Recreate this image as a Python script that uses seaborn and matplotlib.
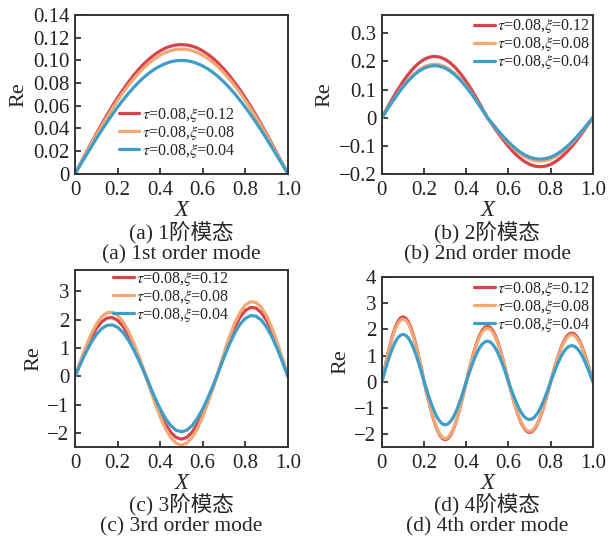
import numpy as np
import pandas as pd
import matplotlib
matplotlib.use("Agg")
import matplotlib.pyplot as plt
import seaborn as sns

# ---------------- data ----------------
x = [i * 0.025 for i in range(41)]
x4 = [i * 0.0125 for i in range(81)]

labels = [r"$\tau$=0.08,$\xi$=0.12", r"$\tau$=0.08,$\xi$=0.08", r"$\tau$=0.08,$\xi$=0.04"]
colors = ["#d6434d", "#f3a873", "#3d9fc8"]

m1_red = [0, .0090, .0178, .0266, .0352, .0436, .0518, .0596, .0670, .0740, .0806, .0867, .0922, .0972,
          .1016, .1053, .1084, .1109, .1126, .1136, .1140, .1136, .1126, .1109, .1084, .1053, .1016, .0972,
          .0922, .0867, .0806, .0740, .0670, .0596, .0518, .0436, .0352, .0266, .0178, .0090, 0]
m1_orange = [0, .0086, .0172, .0257, .0340, .0421, .0499, .0575, .0647, .0714, .0778, .0836, .0890, .0938,
             .0980, .1016, .1046, .1070, .1086, .1097, .1100, .1097, .1086, .1070, .1046, .1016, .0980, .0938,
             .0890, .0836, .0778, .0714, .0647, .0575, .0499, .0421, .0340, .0257, .0172, .0086, 0]
m1_blue = [0, .0079, .0156, .0233, .0309, .0383, .0454, .0523, .0588, .0649, .0707, .0760, .0809, .0853,
           .0891, .0924, .0951, .0972, .0988, .0997, .1000, .0997, .0988, .0972, .0951, .0924, .0891, .0853,
           .0809, .0760, .0707, .0649, .0588, .0523, .0454, .0383, .0309, .0233, .0156, .0079, 0]

m2_red = [0, .0341, .0674, .0990, .1281, .1541, .1764, .1942, .2073, .2153, .2180, .2153, .2073, .1942,
          .1764, .1541, .1281, .0990, .0674, .0341, 0,
          -.0274, -.0541, -.0795, -.1029, -.1237, -.1416, -.1559, -.1664, -.1728, -.1750, -.1728, -.1664,
          -.1559, -.1416, -.1237, -.1029, -.0795, -.0541, -.0274, 0]
m2_orange = [0, .0297, .0587, .0863, .1117, .1343, .1537, .1693, .1807, .1877, .1900, .1877, .1807, .1693,
             .1537, .1343, .1117, .0863, .0587, .0297, 0,
             -.0242, -.0479, -.0704, -.0911, -.1096, -.1254, -.1381, -.1474, -.1531, -.1550, -.1531, -.1474,
             -.1381, -.1254, -.1096, -.0911, -.0704, -.0479, -.0242, 0]
m2_blue = [0, .0289, .0572, .0840, .1087, .1308, .1497, .1648, .1759, .1827, .1850, .1827, .1759, .1648,
           .1497, .1308, .1087, .0840, .0572, .0289, 0,
           -.0231, -.0457, -.0672, -.0870, -.1047, -.1197, -.1319, -.1408, -.1462, -.1480, -.1462, -.1408,
           -.1319, -.1197, -.1047, -.0870, -.0672, -.0457, -.0231, 0]

m3_red = [0, .485, .944, 1.351, 1.683, 1.922, 2.054, 2.074, 1.978, 1.773, 1.471, 1.087, .643, .163,
          -.347, -.850, -1.305, -1.688, -1.978, -2.159, -2.220, -2.159, -1.978, -1.688, -1.305, -.850, -.347,
          .192, .754, 1.275, 1.725, 2.080, 2.321, 2.432, 2.410, 2.254, 1.974, 1.585, 1.108, .570, 0]
m3_orange = [0, .530, 1.031, 1.474, 1.836, 2.097, 2.242, 2.263, 2.159, 1.935, 1.605, 1.186, .701, .178,
             -.380, -.930, -1.428, -1.848, -2.165, -2.363, -2.430, -2.363, -2.165, -1.848, -1.428, -.930, -.380,
             .207, .816, 1.379, 1.867, 2.251, 2.511, 2.632, 2.608, 2.439, 2.136, 1.714, 1.199, .616, 0]
m3_blue = [0, .425, .826, 1.182, 1.472, 1.681, 1.798, 1.814, 1.731, 1.552, 1.287, .951, .562, .143,
           -.307, -.750, -1.152, -1.490, -1.746, -1.906, -1.960, -1.906, -1.746, -1.490, -1.152, -.750, -.307,
           .169, .664, 1.123, 1.520, 1.833, 2.045, 2.143, 2.124, 1.986, 1.739, 1.396, .976, .502, 0]

m4_red = [0, .484, .949, 1.378, 1.754, 2.062, 2.291, 2.432, 2.480, 2.432, 2.291, 2.062, 1.754, 1.378, .949, .484,
          0, -.433, -.850, -1.233, -1.570, -1.846, -2.051, -2.177, -2.220, -2.177, -2.051, -1.846, -1.570, -1.233, -.850, -.433,
          0, .414, .811, 1.178, 1.499, 1.763, 1.959, 2.079, 2.120, 2.079, 1.959, 1.763, 1.499, 1.178, .811, .414,
          0, -.378, -.742, -1.078, -1.372, -1.613, -1.792, -1.903, -1.940, -1.903, -1.792, -1.613, -1.372, -1.078, -.742, -.378,
          0, .363, .712, 1.033, 1.315, 1.547, 1.718, 1.824, 1.860, 1.824, 1.718, 1.547, 1.315, 1.033, .712, .363, 0]
m4_orange = [0, .468, .918, 1.333, 1.697, 1.996, 2.217, 2.354, 2.400, 2.354, 2.217, 1.996, 1.697, 1.333, .918, .468,
             0, -.425, -.834, -1.211, -1.541, -1.813, -2.014, -2.138, -2.180, -2.138, -2.014, -1.813, -1.541, -1.211, -.834, -.425,
             0, .400, .785, 1.139, 1.450, 1.705, 1.894, 2.011, 2.050, 2.011, 1.894, 1.705, 1.450, 1.139, .785, .400,
             0, -.371, -.727, -1.056, -1.343, -1.580, -1.755, -1.864, -1.900, -1.864, -1.755, -1.580, -1.343, -1.056, -.727, -.371,
             0, .351, .689, 1.000, 1.273, 1.497, 1.663, 1.765, 1.800, 1.765, 1.663, 1.497, 1.273, 1.000, .689, .351, 0]
m4_blue = [0, .353, .693, 1.006, 1.280, 1.505, 1.672, 1.775, 1.810, 1.775, 1.672, 1.505, 1.280, 1.006, .693, .353,
           0, -.322, -.631, -.917, -1.167, -1.372, -1.524, -1.618, -1.650, -1.618, -1.524, -1.372, -1.167, -.917, -.631, -.322,
           0, .302, .593, .861, 1.096, 1.289, 1.432, 1.520, 1.550, 1.520, 1.432, 1.289, 1.096, .861, .593, .302,
           0, -.283, -.555, -.806, -1.025, -1.206, -1.340, -1.422, -1.450, -1.422, -1.340, -1.206, -1.025, -.806, -.555, -.283,
           0, .269, .528, .767, .976, 1.147, 1.275, 1.354, 1.380, 1.354, 1.275, 1.147, .976, .767, .528, .269, 0]

xticks = [0, 0.2, 0.4, 0.6, 0.8, 1.0]
xticklabels = ["0", "0.2", "0.4", "0.6", "0.8", "1.0"]

yt1 = [0, 0.02, 0.04, 0.06, 0.08, 0.10, 0.12, 0.14]
ytl1 = ["0", "0.02", "0.04", "0.06", "0.08", "0.10", "0.12", "0.14"]
yt2 = [-0.2, -0.1, 0, 0.1, 0.2, 0.3]
ytl2 = ["\u22120.2", "\u22120.1", "0", "0.1", "0.2", "0.3"]
yt3 = [-2, -1, 0, 1, 2, 3]
ytl3 = ["\u22122", "\u22121", "0", "1", "2", "3"]
yt4 = [-2, -1, 0, 1, 2, 3, 4]
ytl4 = ["\u22122", "\u22121", "0", "1", "2", "3", "4"]

captions_cn = ["(a) 1阶模态", "(b) 2阶模态", "(c) 3阶模态", "(d) 4阶模态"]
captions_en = ["(a) 1st order mode", "(b) 2nd order mode", "(c) 3rd order mode", "(d) 4th order mode"]

# ---------------- style ----------------
sns.set_style("ticks")
plt.rcParams["font.family"] = ["Liberation Serif", "Noto Sans CJK SC", "DejaVu Sans"]
plt.rcParams["mathtext.fontset"] = "stix"
plt.rcParams["axes.unicode_minus"] = True

fig = plt.figure(figsize=(6.15, 5.38), dpi=100)

positions = [
    [0.122, 0.677, 0.346, 0.295],
    [0.621, 0.677, 0.343, 0.295],
    [0.122, 0.169, 0.346, 0.329],
    [0.621, 0.169, 0.343, 0.316],
]
xs = [x, x, x, x4]
series = [
    [m1_red, m1_orange, m1_blue],
    [m2_red, m2_orange, m2_blue],
    [m3_red, m3_orange, m3_blue],
    [m4_red, m4_orange, m4_blue],
]
ylims = [(0, 0.14), (-0.2, 0.365), (-2.5, 3.75), (-2.5, 4.0)]
yticks_all = [(yt1, ytl1), (yt2, ytl2), (yt3, ytl3), (yt4, ytl4)]
legend_cfg = [
    dict(loc="upper left", bbox_to_anchor=(0.205, 0.43)),
    dict(loc="upper right", bbox_to_anchor=(0.99, 0.985)),
    dict(loc="upper left", bbox_to_anchor=(0.18, 1.0)),
    dict(loc="upper right", bbox_to_anchor=(0.99, 0.985)),
]

for k in range(4):
    ax = fig.add_axes(positions[k])
    rows = []
    for lab, vals in zip(labels, series[k]):
        for xi, yi in zip(xs[k], vals):
            rows.append({"X": xi, "Re": yi, "case": lab})
    df = pd.DataFrame(rows)
    sns.lineplot(data=df, x="X", y="Re", hue="case", hue_order=labels,
                 palette=colors, linewidth=2.3, ax=ax, estimator=None, sort=False)
    ax.set_xlim(0, 1.0)
    ax.set_ylim(*ylims[k])
    ax.set_xticks(xticks)
    ax.set_xticklabels(xticklabels)
    ax.set_yticks(yticks_all[k][0])
    ax.set_yticklabels(yticks_all[k][1])
    ax.tick_params(direction="in", length=4, width=1.2, labelsize=15,
                   top=False, right=False, colors="#222222")
    ax.tick_params(axis="x", pad=5)
    ax.tick_params(axis="y", pad=4)
    for sp in ax.spines.values():
        sp.set_linewidth(1.4)
        sp.set_color("#333333")
    ax.set_xlabel("X", fontsize=16.5, fontstyle="italic", labelpad=0)
    ax.set_ylabel("Re", fontsize=16, labelpad=3)
    leg = ax.legend(frameon=False, fontsize=11.5, handlelength=1.3, handletextpad=0.15,
                    labelspacing=0.0, borderpad=0, borderaxespad=0, **legend_cfg[k])
    for line in leg.get_lines():
        line.set_linewidth(2.3)

    cx = positions[k][0] + positions[k][2] / 2
    if k < 2:
        y1, y2 = 1 - 233 / 538, 1 - 255 / 538
    else:
        y1, y2 = 1 - 505 / 538, 1 - 527 / 538
    fig.text(cx, y1, captions_cn[k], ha="center", va="center", fontsize=15.5)
    fig.text(cx, y2, captions_en[k], ha="center", va="center", fontsize=15.5)

fig.savefig("out.png", dpi=100)
